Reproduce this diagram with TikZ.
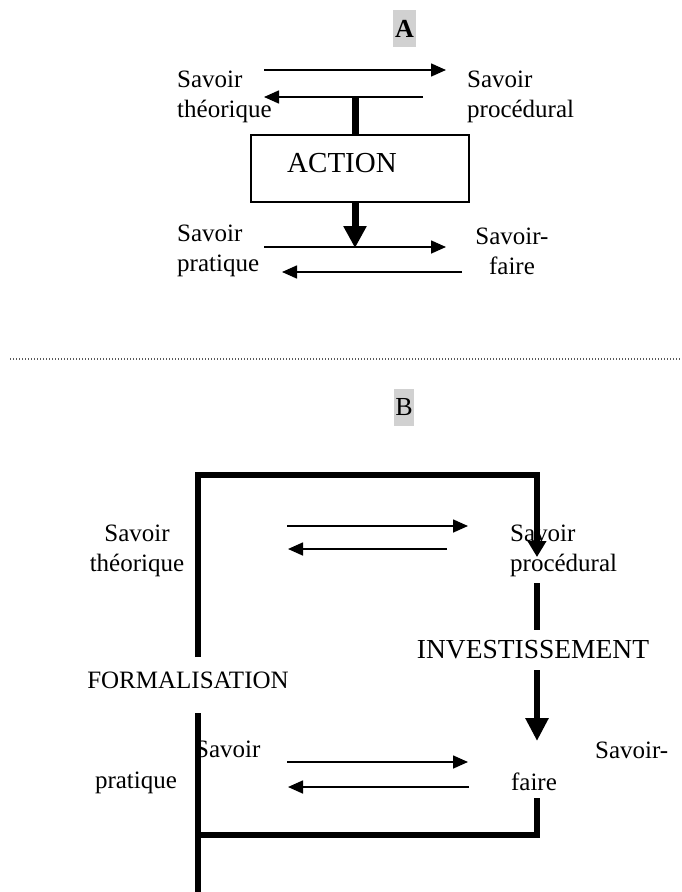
\documentclass[tikz,border=0pt]{standalone}
\usepackage{fontspec}
\setmainfont{Liberation Serif}
\usetikzlibrary{arrows.meta}
\begin{document}
\begin{tikzpicture}[x=1pt,y=-1pt,
  txt/.style={inner sep=0pt,font=\fontsize{25}{30}\selectfont},
  thin/.style={line width=1.6pt,-{Triangle[length=15pt,width=13pt]}},
  thickline/.style={line width=6.5pt,line cap=butt},
  lab/.style={fill=black!18,inner sep=0pt,minimum height=37pt,font=\fontsize{26}{30}\selectfont}]
\useasboundingbox (0,0) rectangle (681,892);
\fill[white] (0,0) rectangle (681,892);

% ---------- Part A ----------
\node[lab,minimum width=23pt] (labA) at (404.5,28.5) {\textbf{A}};
\node[txt,align=left,anchor=west] (thA) at (177,97) {Savoir\\théorique};
\node[txt,align=left,anchor=west] (prA) at (467,97) {Savoir\\procédural};
\node[txt,align=left,anchor=west] (paA) at (177,251) {Savoir\\pratique};
\node[txt,align=center] (sfA) at (512,251) {Savoir-\\faire};
\node[draw,line width=1.5pt,minimum width=218pt,minimum height=67pt,inner sep=0pt] (act) at (360,168.5) {};
\node[inner sep=0pt,font=\fontsize{29}{30}\selectfont] (actt) at (342,163) {ACTION};

\coordinate (a1s) at (264,70); \coordinate (a1e) at (446,70);
\coordinate (a2s) at (423,97); \coordinate (a2e) at (264,97);
\coordinate (a3s) at (264,247); \coordinate (a3e) at (446,247);
\coordinate (a4s) at (462,272); \coordinate (a4e) at (282,272);
\coordinate (vA1) at (355,97); \coordinate (vA2) at (355,248);
\draw[thin] (a1s) -- (a1e);
\draw[thin] (a2s) -- (a2e);
\draw[thin] (a3s) -- (a3e);
\draw[thin] (a4s) -- (a4e);
\draw[line width=7pt] (vA1) -- (act.north -| vA1);
\draw[line width=7pt,-{Triangle[length=22pt,width=22pt]}] (act.south -| vA1) -- (vA2);

% ---------- separator ----------
\coordinate (d1) at (10,359); \coordinate (d2) at (681,359);
\draw[line width=1.5pt,dash pattern=on 1.3pt off 1.7pt,gray!70!black] (d1) -- (d2);

% ---------- Part B ----------
\node[lab,minimum width=20pt] (labB) at (404,407.5) {B};
\node[txt,align=center] (thB) at (137,551) {Savoir\\théorique};
\node[txt,align=left,anchor=west] (prB) at (510,551) {Savoir\\procédural};
\node[txt,anchor=west] (sB) at (195,749) {Savoir};
\node[txt] (ptB) at (136,783) {pratique};
\node[txt,anchor=west] (sfB) at (595,750) {Savoir-};
\node[txt] (fB) at (534,782) {faire};
\node[inner sep=0pt,font=\fontsize{27.5}{30}\selectfont] (inv) at (533,650) {INVESTISSEMENT};
\node[inner sep=0pt,font=\fontsize{25}{30}\selectfont] (form) at (188,680) {FORMALISATION};

\coordinate (b1s) at (287,526); \coordinate (b1e) at (468,526);
\coordinate (b2s) at (447,549); \coordinate (b2e) at (288,549);
\coordinate (b3s) at (287,762); \coordinate (b3e) at (468,762);
\coordinate (b4s) at (469,787); \coordinate (b4e) at (288,787);
\draw[thin] (b1s) -- (b1e);
\draw[thin] (b2s) -- (b2e);
\draw[thin] (b3s) -- (b3e);
\draw[thin] (b4s) -- (b4e);

\coordinate (L1) at (198,657); \coordinate (TL) at (198,475);
\coordinate (TR) at (537,475); \coordinate (R1) at (537,557);
\coordinate (R2) at (537,583); \coordinate (R3) at (537,630);
\coordinate (R4) at (537,670); \coordinate (R5) at (537,741);
\coordinate (R6) at (537,798); \coordinate (BR) at (537,835);
\coordinate (BL) at (198,835); \coordinate (L2) at (198,713);
\coordinate (L3) at (198,892);
\draw[thickline,line join=miter,-{Triangle[length=16pt,width=18pt]}] (L1) -- (TL) -- (TR) -- (R1);
\draw[thickline] (R2) -- (R3);
\draw[thickline,-{Triangle[length=23pt,width=22pt]}] (R4) -- (R5);
\draw[thickline,line join=miter] (R6) -- (BR) -- (BL);
\draw[thickline] (L2) -- (L3);
\end{tikzpicture}
\end{document}
